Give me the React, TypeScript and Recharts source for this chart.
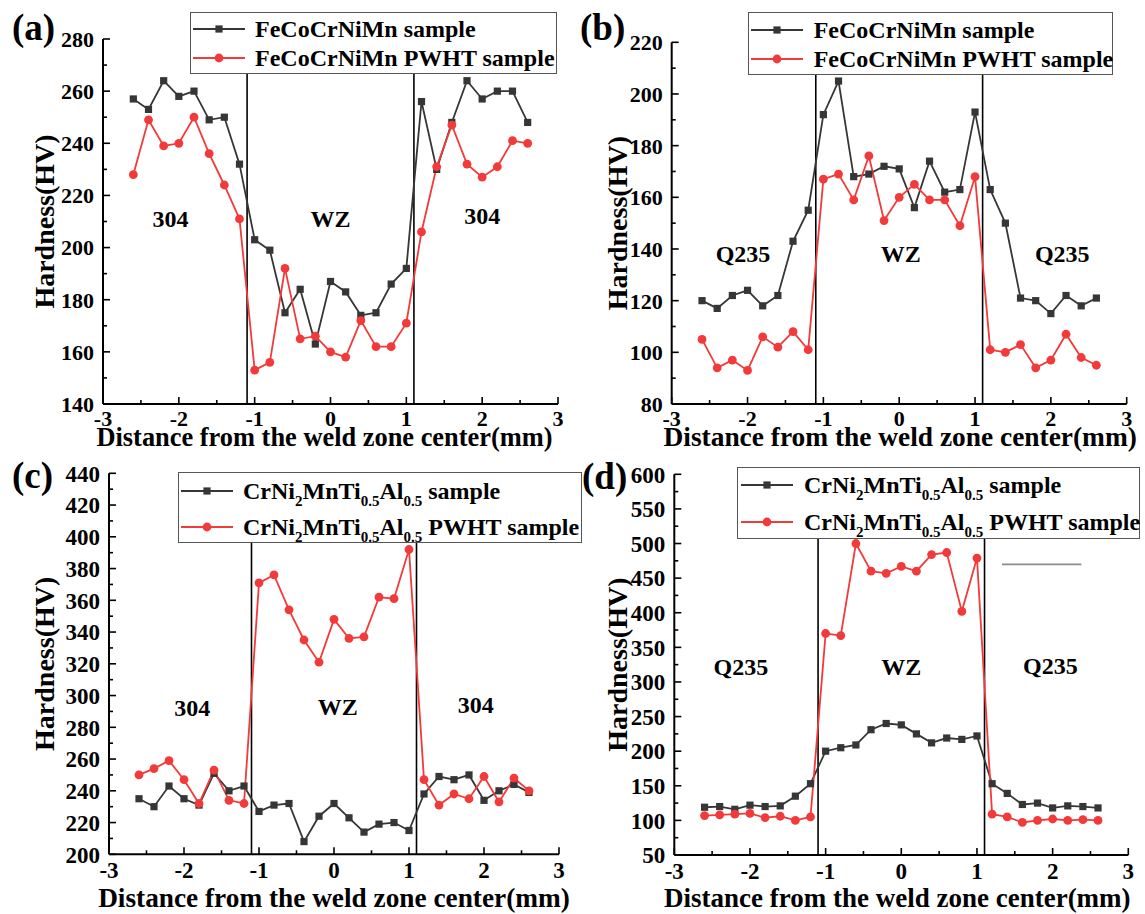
import React from 'react';
import { LineChart, Line, XAxis, YAxis, ReferenceLine, ReferenceDot, Legend } from 'recharts';

const FONT = "'Liberation Serif', 'Times New Roman', Times, serif";
const BLACK = '#363636';
const RED = '#f23a3a';

// Distance from weld zone centre (mm)
const distance = [-2.6, -2.4, -2.2, -2.0, -1.8, -1.6, -1.4, -1.2, -1.0, -0.8, -0.6, -0.4, -0.2, 0, 0.2, 0.4, 0.6, 0.8, 1.0, 1.2, 1.4, 1.6, 1.8, 2.0, 2.2, 2.4, 2.6];

// (a) FeCoCrNiMn / 304
const aSample = [257, 253, 264, 258, 260, 249, 250, 232, 203, 199, 175, 184, 163, 187, 183, 174, 175, 186, 192, 256, 230, 248, 264, 257, 260, 260, 248];
const aPwht = [228, 249, 239, 240, 250, 236, 224, 211, 153, 156, 192, 165, 166, 160, 158, 172, 162, 162, 171, 206, 231, 247, 232, 227, 231, 241, 240];
// (b) FeCoCrNiMn / Q235
const bSample = [120, 117, 122, 124, 118, 122, 143, 155, 192, 205, 168, 169, 172, 171, 156, 174, 162, 163, 193, 163, 150, 121, 120, 115, 122, 118, 121];
const bPwht = [105, 94, 97, 93, 106, 102, 108, 101, 167, 169, 159, 176, 151, 160, 165, 159, 159, 149, 168, 101, 100, 103, 94, 97, 107, 98, 95];
// (c) CrNi2MnTi0.5Al0.5 / 304
const cSample = [235, 230, 243, 235, 231, 251, 240, 243, 227, 231, 232, 208, 224, 232, 223, 214, 219, 220, 215, 238, 249, 247, 250, 234, 240, 244, 239];
const cPwht = [250, 254, 259, 247, 232, 253, 234, 232, 371, 376, 354, 335, 321, 348, 336, 337, 362, 361, 392, 247, 231, 238, 235, 249, 233, 248, 240];
// (d) CrNi2MnTi0.5Al0.5 / Q235
const dSample = [119, 120, 116, 122, 120, 121, 135, 153, 200, 205, 209, 231, 240, 238, 225, 212, 219, 217, 222, 153, 139, 123, 125, 118, 121, 120, 118];
const dPwht = [107, 108, 109, 110, 104, 106, 100, 105, 370, 367, 500, 460, 457, 467, 460, 484, 487, 402, 479, 109, 105, 97, 100, 102, 100, 101, 100];

const xTicks = [-3, -2.5, -2, -1.5, -1, -0.5, 0, 0.5, 1, 1.5, 2, 2.5, 3];
const aYTicks = [140, 150, 160, 170, 180, 190, 200, 210, 220, 230, 240, 250, 260, 270, 280];
const bYTicks = [80, 90, 100, 110, 120, 130, 140, 150, 160, 170, 180, 190, 200, 210, 220];
const cYTicks = [200, 210, 220, 230, 240, 250, 260, 270, 280, 290, 300, 310, 320, 330, 340, 350, 360, 370, 380, 390, 400, 410, 420, 430, 440];
const dYTicks = [50, 75, 100, 125, 150, 175, 200, 225, 250, 275, 300, 325, 350, 375, 400, 425, 450, 475, 500, 525, 550, 575, 600];

const zoneBoundaries = [-1.1, 1.1];

const aNotes = [{ x: -2.11, y: 211, text: '304' }, { x: 0, y: 211, text: 'WZ' }, { x: 2.0, y: 212, text: '304' }];
const bNotes = [{ x: -2.06, y: 138, text: 'Q235' }, { x: 0.02, y: 138, text: 'WZ' }, { x: 2.15, y: 138, text: 'Q235' }];
const cNotes = [{ x: -1.89, y: 292, text: '304' }, { x: 0.05, y: 293, text: 'WZ' }, { x: 1.89, y: 294, text: '304' }];
const dNotes = [{ x: -2.12, y: 321, text: 'Q235' }, { x: 0.0, y: 322, text: 'WZ' }, { x: 1.97, y: 323, text: 'Q235' }];

const dStraySegment = [{ x: 1.33, y: 470 }, { x: 2.38, y: 470 }];

const feNames = ['FeCoCrNiMn sample', 'FeCoCrNiMn PWHT sample'];
const heaNames = ['CrNi2MnTi0.5Al0.5 sample', 'CrNi2MnTi0.5Al0.5 PWHT sample'];

const Sub = ({ children }: any) => (
  <span style={{ fontSize: 15, position: 'relative', top: 7 }}>{children}</span>
);

const heaLabel = (pwht: boolean) => (
  <span>
    CrNi<Sub>2</Sub>MnTi<Sub>0.5</Sub>Al<Sub>0.5</Sub>
    {pwht ? ' PWHT sample' : ' sample'}
  </span>
);

const makeXTick = (fontSize: number, dy: number) => (props: any) => {
  const { x, y, payload } = props;
  const v = payload.value;
  const major = Number.isInteger(v);
  return (
    <g>
      <line x1={x} x2={x} y1={y} y2={y - (major ? 7 : 4)} stroke="#000" strokeWidth={1.6} />
      {major ? (
        <text x={x} y={y + dy} textAnchor="middle" fill="#000" fontFamily={FONT} fontWeight="bold" fontSize={fontSize}>
          {String(v)}
        </text>
      ) : null}
    </g>
  );
};

const makeYTick = (majorStep: number, fontSize: number) => (props: any) => {
  const { x, y, payload } = props;
  const v = payload.value;
  const major = v % majorStep === 0;
  return (
    <g>
      <line x1={x} x2={x + (major ? 7 : 4)} y1={y} y2={y} stroke="#000" strokeWidth={1.6} />
      {major ? (
        <text x={x - 9} y={y} dy="0.36em" textAnchor="end" fill="#000" fontFamily={FONT} fontWeight="bold" fontSize={fontSize}>
          {String(v)}
        </text>
      ) : null}
    </g>
  );
};

const SquareDot = (p: any) => {
  if (p.cx == null || p.cy == null) return <g key={p.index} />;
  return <rect key={p.index} x={p.cx - 3.6} y={p.cy - 3.6} width={7.2} height={7.2} fill={BLACK} />;
};
const CircleDot = (p: any) => {
  if (p.cx == null || p.cy == null) return <g key={p.index} />;
  return <circle key={p.index} cx={p.cx} cy={p.cy} r={4.4} fill={RED} />;
};

const LegendBox = ({ cfg, labels }: any) => (
  <div
    style={{
      width: cfg.w,
      height: cfg.h,
      boxSizing: 'border-box',
      border: '1.5px solid #555',
      background: '#fff',
      position: 'relative',
      fontFamily: FONT,
      fontWeight: 'bold',
      fontSize: 24,
      color: '#000',
      lineHeight: 1,
    }}
  >
    {labels.map((lab: any, i: number) => (
      <div
        key={i}
        style={{
          position: 'absolute',
          left: cfg.symX,
          top: cfg.rows[i] - 15,
          height: 30,
          display: 'flex',
          alignItems: 'center',
          whiteSpace: 'nowrap',
        }}
      >
        <svg width={52} height={14} style={{ display: 'block' }}>
          <line x1={0} x2={52} y1={7} y2={7} stroke={i === 0 ? BLACK : RED} strokeWidth={2} />
          {i === 0 ? (
            <rect x={22.4} y={3.4} width={7.2} height={7.2} fill={BLACK} />
          ) : (
            <circle cx={26} cy={7} r={4.4} fill={RED} />
          )}
        </svg>
        <span style={{ marginLeft: cfg.textX - cfg.symX - 52 }}>{lab}</span>
      </div>
    ))}
  </div>
);

function Panel({ cfg }: any) {
  const data = distance.map((x, i) => ({ x, s: cfg.sample[i], p: cfg.pwht[i] }));
  const yAxisW = 60;
  const margin = {
    left: cfg.plot.l - cfg.left - yAxisW,
    top: cfg.plot.t - cfg.top,
    right: cfg.left + cfg.width - cfg.plot.r,
    bottom: cfg.top + cfg.height - cfg.plot.b - cfg.xAxisH,
  };
  const yOffset = cfg.yTitleX - (cfg.plot.l - yAxisW);
  const xOffset = cfg.plot.b + cfg.xAxisH - cfg.xTitleBaseline;
  return (
    <div style={{ position: 'absolute', left: cfg.left, top: cfg.top }}>
      <LineChart width={cfg.width} height={cfg.height} margin={margin} data={data}>
        <XAxis
          type="number"
          dataKey="x"
          domain={[-3, 3]}
          ticks={xTicks}
          interval={0}
          height={cfg.xAxisH}
          tickSize={0}
          tickMargin={0}
          tickLine={false}
          axisLine={{ stroke: '#000', strokeWidth: 2 }}
          tick={makeXTick(cfg.tickFont, cfg.xTickDy)}
          label={{
            value: 'Distance from the weld zone center(mm)',
            position: 'insideBottom',
            offset: xOffset,
            dx: cfg.xTitleDx,
            fill: '#000',
            fontSize: cfg.xTitleFont,
            fontWeight: 'bold',
            fontFamily: FONT,
          }}
        />
        <YAxis
          type="number"
          domain={cfg.yDomain}
          ticks={cfg.yTicks}
          interval={0}
          width={yAxisW}
          tickSize={0}
          tickMargin={0}
          tickLine={false}
          axisLine={{ stroke: '#000', strokeWidth: 2 }}
          tick={makeYTick(cfg.yMajor, cfg.tickFont)}
          label={{
            value: 'Hardness(HV)',
            angle: -90,
            position: 'insideLeft',
            offset: yOffset,
            fill: '#000',
            fontSize: cfg.yTitleFont,
            fontWeight: 'bold',
            fontFamily: FONT,
            style: { textAnchor: 'middle' },
          }}
        />
        {zoneBoundaries.map((b) => (
          <ReferenceLine key={b} x={b} stroke="#000" strokeWidth={1.6} />
        ))}
        {cfg.stray ? <ReferenceLine segment={cfg.stray} stroke="#8c8c8c" strokeWidth={1.8} /> : null}
        {cfg.notes.map((n: any, i: number) => (
          <ReferenceDot
            key={i}
            x={n.x}
            y={n.y}
            r={0}
            shape={(p: any) => (
              <text
                x={p.cx}
                y={p.cy}
                textAnchor="middle"
                dominantBaseline="central"
                fill="#000"
                fontFamily={FONT}
                fontWeight="bold"
                fontSize={24}
              >
                {n.text}
              </text>
            )}
          />
        ))}
        <Line
          type="linear"
          dataKey="s"
          name={cfg.names[0]}
          stroke={BLACK}
          strokeWidth={1.8}
          dot={SquareDot}
          activeDot={false}
          isAnimationActive={false}
        />
        <Line
          type="linear"
          dataKey="p"
          name={cfg.names[1]}
          stroke={RED}
          strokeWidth={1.8}
          dot={CircleDot}
          activeDot={false}
          isAnimationActive={false}
        />
        <Legend
          layout="horizontal"
          verticalAlign="middle"
          align="center"
          wrapperStyle={{
            left: cfg.legend.x - cfg.left,
            top: cfg.legend.y - cfg.top,
            width: cfg.legend.w,
            height: cfg.legend.h,
          }}
          content={() => <LegendBox cfg={cfg.legend} labels={cfg.legendLabels} />}
        />
      </LineChart>
    </div>
  );
}

const panels = [
  {
    left: 0, top: 0, width: 572, height: 460,
    plot: { l: 103, t: 39, r: 558, b: 404 },
    xAxisH: 50, xTickDy: 22, tickFont: 22,
    xTitleBaseline: 446, xTitleDx: -6, xTitleFont: 26.4,
    yTitleX: 44.5, yTitleFont: 28,
    yDomain: [140, 280], yTicks: aYTicks, yMajor: 20,
    sample: aSample, pwht: aPwht, notes: aNotes, names: feNames,
    legend: { x: 190, y: 12, w: 367, h: 62, rows: [16.3, 45.3], symX: 2, textX: 64 },
    legendLabels: feNames,
  },
  {
    left: 572, top: 0, width: 573, height: 460,
    plot: { l: 671.7, t: 42.3, r: 1126.7, b: 404 },
    xAxisH: 50, xTickDy: 22, tickFont: 22,
    xTitleBaseline: 446, xTitleDx: 1, xTitleFont: 27.4,
    yTitleX: 617, yTitleFont: 28,
    yDomain: [80, 220], yTicks: bYTicks, yMajor: 20,
    sample: bSample, pwht: bPwht, notes: bNotes, names: feNames,
    legend: { x: 747.7, y: 12, w: 365, h: 63, rows: [16.7, 46.3], symX: 2.3, textX: 65 },
    legendLabels: feNames,
  },
  {
    left: 0, top: 460, width: 572, height: 454,
    plot: { l: 109, t: 473.3, r: 559, b: 854.3 },
    xAxisH: 55, xTickDy: 24, tickFont: 23,
    xTitleBaseline: 907, xTitleDx: 0, xTitleFont: 27.3,
    yTitleX: 44.5, yTitleFont: 28,
    yDomain: [200, 440], yTicks: cYTicks, yMajor: 20,
    sample: cSample, pwht: cPwht, notes: cNotes, names: heaNames,
    legend: { x: 178, y: 472, w: 404, h: 71, rows: [18, 53.7], symX: 2, textX: 64 },
    legendLabels: [heaLabel(false), heaLabel(true)],
  },
  {
    left: 572, top: 460, width: 573, height: 454,
    plot: { l: 674.3, t: 474.3, r: 1128.3, b: 855 },
    xAxisH: 55, xTickDy: 24, tickFont: 23,
    xTitleBaseline: 907, xTitleDx: -4, xTitleFont: 27,
    yTitleX: 617, yTitleFont: 28,
    yDomain: [50, 600], yTicks: dYTicks, yMajor: 50,
    sample: dSample, pwht: dPwht, notes: dNotes, names: heaNames,
    legend: { x: 737, y: 467, w: 403, h: 72, rows: [17.3, 54], symX: 3, textX: 66 },
    legendLabels: [heaLabel(false), heaLabel(true)],
    stray: dStraySegment,
  },
];

const panelTags = [
  { x: 12, y: 40, text: '(a)' },
  { x: 580, y: 40, text: '(b)' },
  { x: 12, y: 488, text: '(c)' },
  { x: 582, y: 489, text: '(d)' },
];

export default function App() {
  return (
    <div style={{ position: 'absolute', left: 0, top: 0, width: 1145, height: 914, background: '#fff', overflow: 'hidden' }}>
      {panels.map((cfg, i) => (
        <Panel key={i} cfg={cfg} />
      ))}
      <svg width={1145} height={914} style={{ position: 'absolute', left: 0, top: 0, pointerEvents: 'none' }}>
        {panelTags.map((t) => (
          <text key={t.text} x={t.x} y={t.y} fill="#000" fontFamily={FONT} fontWeight="bold" fontSize={37}>
            {t.text}
          </text>
        ))}
      </svg>
    </div>
  );
}
